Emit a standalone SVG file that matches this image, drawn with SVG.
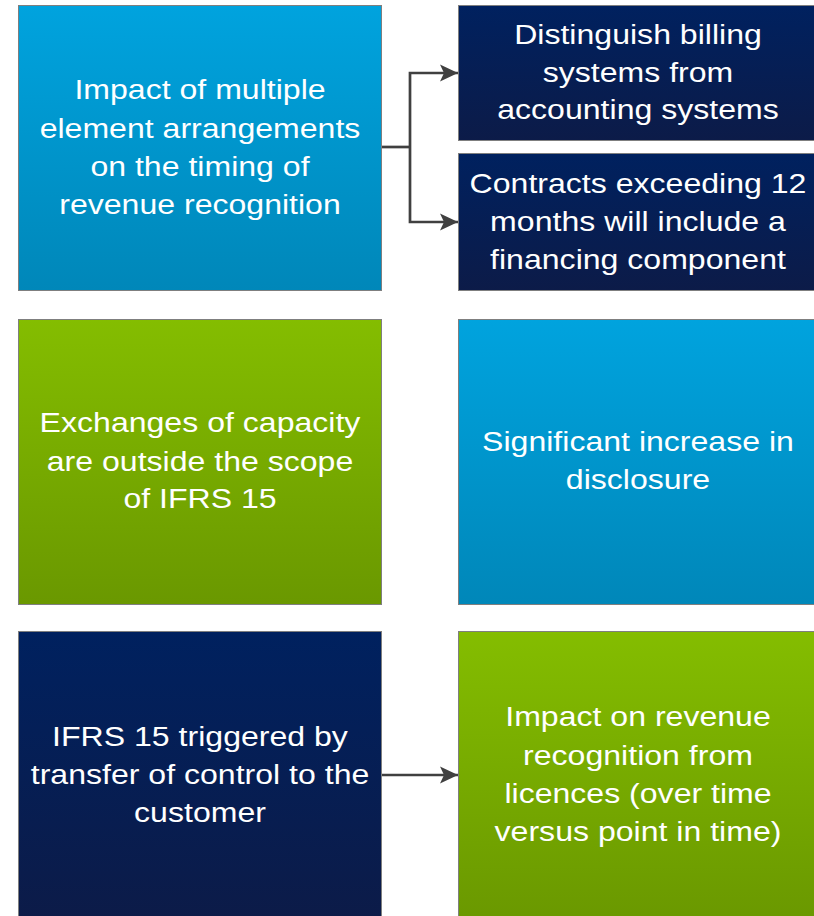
<svg xmlns="http://www.w3.org/2000/svg" width="814" height="916" viewBox="0 0 814 916">
<defs>
<linearGradient id="gBlue" x1="0" y1="0" x2="0" y2="1"><stop offset="0" stop-color="#00a3de"/><stop offset="1" stop-color="#0087b9"/></linearGradient>
<linearGradient id="gNavy" x1="0" y1="0" x2="0" y2="1"><stop offset="0" stop-color="#00215f"/><stop offset="1" stop-color="#0c1b48"/></linearGradient>
<linearGradient id="gGreen" x1="0" y1="0" x2="0" y2="1"><stop offset="0" stop-color="#84bd00"/><stop offset="1" stop-color="#6a9800"/></linearGradient>
<marker id="arr" markerWidth="18" markerHeight="18" refX="18" refY="9" orient="auto" markerUnits="userSpaceOnUse" viewBox="0 0 18 18">
<path d="M0,0.5 L18,9 L0,17.5 L4,9 Z" fill="#404040"/>
</marker>
</defs>
<style>
.box{stroke:#7f7f7f;stroke-width:1}
.t{font-family:"Liberation Sans",Arial,sans-serif;font-size:28.5px;fill:#ffffff;text-anchor:middle}
.c{fill:none;stroke:#404040;stroke-width:2.7}
</style>
<g id="n1"><rect class="box" x="18.5" y="5.5" width="363" height="285" fill="url(#gBlue)"/>
<text class="t" transform="translate(200 0) scale(1.125 1)"><tspan x="0" y="99">Impact of multiple</tspan><tspan x="0" y="138">element arrangements</tspan><tspan x="0" y="176">on the timing of</tspan><tspan x="0" y="214">revenue recognition</tspan></text></g>
<g id="n2"><rect class="box" x="458.5" y="5.5" width="360" height="135" fill="url(#gNavy)"/>
<text class="t" transform="translate(638 0) scale(1.125 1)"><tspan x="0" y="44">Distinguish billing</tspan><tspan x="0" y="82">systems from</tspan><tspan x="0" y="119">accounting systems</tspan></text></g>
<g id="n3"><rect class="box" x="458.5" y="153.5" width="360" height="137" fill="url(#gNavy)"/>
<text class="t" transform="translate(638 0) scale(1.125 1)"><tspan x="0" y="193">Contracts exceeding 12</tspan><tspan x="0" y="231">months will include a</tspan><tspan x="0" y="269">financing component</tspan></text></g>
<g id="n4"><rect class="box" x="18.5" y="319.5" width="363" height="285" fill="url(#gGreen)"/>
<text class="t" transform="translate(200 0) scale(1.125 1)"><tspan x="0" y="432">Exchanges of capacity</tspan><tspan x="0" y="471">are outside the scope</tspan><tspan x="0" y="508">of IFRS 15</tspan></text></g>
<g id="n5"><rect class="box" x="458.5" y="319.5" width="360" height="285" fill="url(#gBlue)"/>
<text class="t" transform="translate(638 0) scale(1.125 1)"><tspan x="0" y="451">Significant increase in</tspan><tspan x="0" y="489">disclosure</tspan></text></g>
<g id="n6"><rect class="box" x="18.5" y="631.5" width="363" height="290" fill="url(#gNavy)"/>
<text class="t" transform="translate(200 0) scale(1.125 1)"><tspan x="0" y="746">IFRS 15 triggered by</tspan><tspan x="0" y="784">transfer of control to the</tspan><tspan x="0" y="822">customer</tspan></text></g>
<g id="n7"><rect class="box" x="458.5" y="631.5" width="360" height="290" fill="url(#gGreen)"/>
<text class="t" transform="translate(638 0) scale(1.125 1)"><tspan x="0" y="726">Impact on revenue</tspan><tspan x="0" y="765">recognition from</tspan><tspan x="0" y="803">licences (over time</tspan><tspan x="0" y="841">versus point in time)</tspan></text></g>
<g id="connectors">
<path class="c" d="M382,147 H410"/>
<path class="c" d="M410,147 V73 H458" marker-end="url(#arr)"/>
<path class="c" d="M410,147 V222 H458" marker-end="url(#arr)"/>
<path class="c" d="M382,775 H458" marker-end="url(#arr)"/>
</g>
</svg>
